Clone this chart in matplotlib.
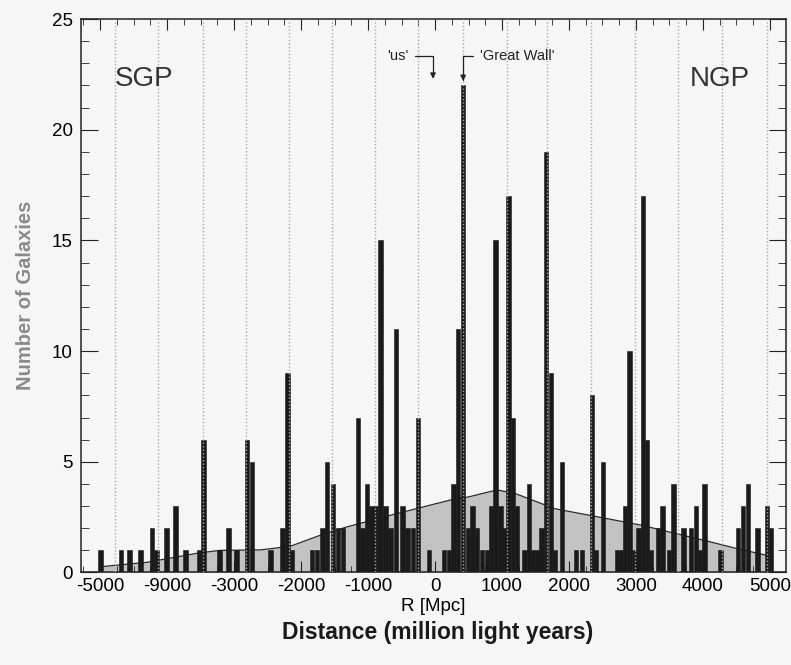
import matplotlib
matplotlib.use("Agg")
import matplotlib.pyplot as plt
from matplotlib.ticker import MultipleLocator

plt.rcParams['font.family'] = ['Liberation Sans', 'DejaVu Sans']

# bin centres (Mpc) and galaxy counts
r_mpc = [-4990, -4690, -4560, -4400, -4225, -4160, -4010, -3875, -3725, -3525,
         -3455, -3215, -3085, -2965, -2805, -2730, -2455, -2275, -2200, -2135,
         -1835, -1760, -1680, -1610, -1525, -1450, -1375, -1150, -1080, -1015,
         -950, -880, -815, -740, -665, -580, -485, -410, -330, -255,
         -90, 135, 210, 275, 345, 420, 495, 560, 625, 700,
         775, 835, 905, 980, 1040, 1100, 1165, 1225, 1335, 1405,
         1465, 1530, 1590, 1655, 1730, 1790, 1895, 2105, 2195, 2345,
         2405, 2510, 2715, 2775, 2835, 2905, 2970, 3040, 3105, 3165,
         3225, 3330, 3395, 3495, 3560, 3710, 3820, 3895, 3955, 4025,
         4265, 4525, 4600, 4675, 4815, 4955, 5015]
counts = [1, 1, 1, 1, 2, 1, 2, 3, 1, 1,
          6, 1, 2, 1, 6, 5, 1, 2, 9, 1,
          1, 1, 2, 5, 4, 2, 2, 7, 2, 4,
          3, 3, 15, 3, 2, 11, 3, 2, 2, 7,
          1, 1, 1, 4, 11, 22, 2, 3, 2, 1,
          1, 3, 15, 3, 2, 17, 7, 3, 1, 4,
          1, 1, 2, 19, 9, 1, 5, 1, 1, 8,
          1, 5, 1, 1, 3, 10, 1, 2, 17, 6,
          1, 2, 3, 1, 4, 2, 2, 3, 1, 4,
          1, 2, 3, 4, 2, 3, 2]

# smoothed mean density (grey area)
mean_r = [-5000, -4300, -3550, -3210, -2610, -2165, -1715, -1315, -670, -75,
          225, 495, 925, 1195, 1790, 2435, 3075, 4060, 4480, 5045]
mean_n = [0.26, 0.46, 0.87, 1.0, 1.02, 1.18, 1.68, 2.06, 2.58, 3.04,
          3.27, 3.41, 3.73, 3.57, 2.88, 2.51, 2.14, 1.42, 1.1, 0.71]

# dotted distance grid (million light years)
mly_grid = [-4780, -4135, -3465, -2820, -2180, -1540, -895, -255,
            420, 1075, 1670, 2330, 2985, 3630, 4285, 4955]

xticks = [-5000, -4000, -3000, -2000, -1000, 0, 1000, 2000, 3000, 4000, 5000]
xticklabels = ['-5000', '-9000', '-3000', '-2000', '-1000', '0',
               '1000', '2000', '3000', '4000', '5000']

bg = '#f6f6f6'
fig = plt.figure(figsize=(7.91, 6.65), dpi=100, facecolor=bg)
ax = fig.add_axes([0.1024, 0.1391, 0.8913, 0.8323], facecolor=bg)

ax.fill_between(mean_r, 0, mean_n, color='#c2c2c2', lw=0, zorder=1)
ax.plot(mean_r, mean_n, color='#2a2a2a', lw=0.9, zorder=1.5)
ax.bar(r_mpc, counts, width=68, color='#1a1a1a', edgecolor='#1a1a1a',
       lw=0.4, zorder=2)
for g in mly_grid:
    ax.axvline(g, color='#a8a8a8', lw=1.0, ls=(0, (1, 1.5)), zorder=3)

ax.set_xlim(-5285, 5240)
ax.set_ylim(0, 25)
ax.set_xticks(xticks)
ax.set_xticklabels(xticklabels)
ax.xaxis.set_minor_locator(MultipleLocator(250))
ax.set_yticks([0, 5, 10, 15, 20, 25])
ax.yaxis.set_minor_locator(MultipleLocator(1))
ax.tick_params(direction='in', top=True, right=True, which='both',
               labelsize=13.5, color='#222222')
ax.tick_params(axis='y', which='major', length=12, pad=6)
ax.tick_params(axis='y', which='minor', length=5.5)
ax.tick_params(axis='x', which='major', length=8, pad=4)
ax.tick_params(axis='x', which='minor', length=4)
for s in ax.spines.values():
    s.set_color('#222222')
    s.set_linewidth(1.1)

ax.text(-4780, 22.3, 'SGP', fontsize=20, color='#333333', va='center')
ax.text(4700, 22.3, 'NGP', fontsize=20, color='#333333', va='center', ha='right')

arrow = dict(arrowstyle='-|>', color='#222222', lw=0.9, mutation_scale=8,
             shrinkA=3, shrinkB=0,
             connectionstyle='angle,angleA=0,angleB=90,rad=0')
ax.annotate("'us'", xy=(-30, 22.3), xytext=(-400, 23.35), fontsize=10.5,
            ha='right', va='center', color='#222222', arrowprops=arrow)
ax.annotate("'Great Wall'", xy=(420, 22.2), xytext=(670, 23.35), fontsize=10.5,
            ha='left', va='center', color='#222222', arrowprops=arrow)

ax.set_xlabel('R [Mpc]', fontsize=13.5, labelpad=2)
ax.set_ylabel('Number of Galaxies', fontsize=14.5, fontweight='bold',
              color='#8a8a8a', labelpad=12)
fig.text(0.553, 0.049, 'Distance (million light years)', fontsize=16.5,
         fontweight='bold', color='#1a1a1a', ha='center', va='center')

fig.savefig('out.png', dpi=100, facecolor=bg)
